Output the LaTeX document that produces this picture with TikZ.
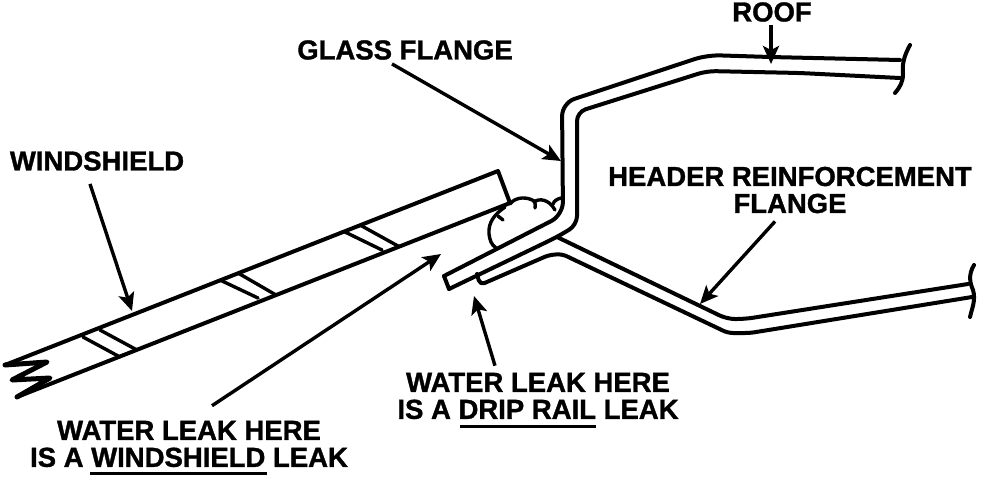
\documentclass[tikz,border=0pt]{standalone}
\usepackage{fontspec}
\setmainfont{Liberation Sans}[BoldFeatures={FakeBold=1.2}]
\usetikzlibrary{arrows.meta}

\begin{document}
\begin{tikzpicture}[x=1pt,y=-1pt]
	
	\useasboundingbox (0,0) rectangle (992,480);
	
	\tikzset{part/.style={line width=4pt,line cap=round,line join=round}}
	\tikzset{thin part/.style={line width=3.4pt,line cap=round,line join=round}}
	\tikzset{pointer/.style={line width=3.4pt,-{Stealth[length=18pt,width=16pt,inset=4pt]}}}
	\tikzset{callout/.style={inner sep=0pt,align=center,font=\fontsize{27.5}{27}\selectfont\bfseries}}
	
	% labels
	
	\node[callout] (roof) at (772,12) {ROOF};
	\node[callout] (glass) at (405,50) {GLASS FLANGE};
	\node[callout] (shield) at (97,161) {WINDSHIELD};
	\node[callout] (header) at (790,190) {HEADER REINFORCEMENT\\FLANGE};
	\node[callout] (dripleak) at (538,396) {WATER LEAK HERE\\IS A DRIP RAIL LEAK};
	\node[callout] (shieldleak) at (189,444) {WATER LEAK HERE\\IS A WINDSHIELD LEAK};
	
	% windshield
	
	\draw[part] (47,362) -- (5,365) -- (498,171) -- (510,203) -- (17,397);
	\draw[part,line width=5pt] (5,365) -- (47,362) -- (12,380) -- (50,378) -- (17,397);
	
	\foreach \xa/\ya/\xb/\yb in {83/337/120/357, 100/330/137/350, 220/280/258/298, 238/273/276/295, 345/232/382/250, 360/225/398/246} {
		\draw[thin part] (\xa,\ya) -- (\xb,\yb);
	}
	
	% sealer
	
	\draw[thin part] (510,204) .. controls (516,196) and (528,197) .. (534,201) .. controls (536,204) and (535,206) .. (535,208);
	\draw[thin part] (534,202) .. controls (539,198) and (549,199) .. (555,210);
	\draw[thin part] (553,204) .. controls (554,201) and (557,199) .. (561,198);
	\draw[thin part] (505,207) .. controls (495,214) and (488,222) .. (489,234) .. controls (490,241) and (491,244) .. (496,248);
	\draw[thin part] (498,216) -- (503,220);
	
	% glass flange and roof
	
	\draw[part,rounded corners=13pt] (900,60) -- (770,57) -- (707,55) -- (562,103) -- (563,215) -- (444,276);
	\draw[part] (444,276) -- (449,289);
	\draw[part,rounded corners=9pt] (449,289) -- (557,237) -- (577,225) -- (577,112) -- (707,71) -- (800,73) -- (900,78);
	\draw[part] (910,45) .. controls (904,56) and (902,64) .. (903,74) .. controls (903,82) and (900,87) .. (895,93);
	
	% header reinforcement flange
	
	\draw[part,rounded corners=8pt] (557,237) -- (727,319) -- (745,319) -- (968,284);
	\draw[part,rounded corners=5pt] (477,274) -- (480,285) -- (549,255) -- (562,254) -- (728,333) -- (750,333) -- (972,297);
	\draw[part] (974,265) .. controls (968,275) and (970,283) .. (973,290) .. controls (976,300) and (972,308) .. (970,317);
	
	% arrows
	
	\coordinate (rooftip) at (771,64);
	\coordinate (glasstip) at (561,161);
	\coordinate (shieldtip) at (132,311);
	\coordinate (headertip) at (700,304);
	\coordinate (dripleaktip) at (474,296);
	\coordinate (shieldleaktip) at (441,254);
	
	\draw[pointer] ([shift={(-1,3)}]roof.south) -- (rooftip);
	\draw[pointer] ([shift={(-13,4)}]glass.south) -- (glasstip);
	\draw[pointer] ([shift={(-7,13)}]shield.south) -- (shieldtip);
	\draw[pointer] ([shift={(-15,8)}]header.south) -- (headertip);
	\draw[pointer] ([shift={(-43,-7)}]dripleak.north) -- (dripleaktip);
	\draw[pointer] ([shift={(23,-15)}]shieldleak.north) -- (shieldleaktip);
	
	% underlines
	
	\draw[line width=2.5pt] ([shift={(-99,6)}]shieldleak.south) -- ([shift={(78,6)}]shieldleak.south);
	\draw[line width=2.5pt] ([shift={(-78,7)}]dripleak.south) -- ([shift={(58,7)}]dripleak.south);
	
\end{tikzpicture}
\end{document}
